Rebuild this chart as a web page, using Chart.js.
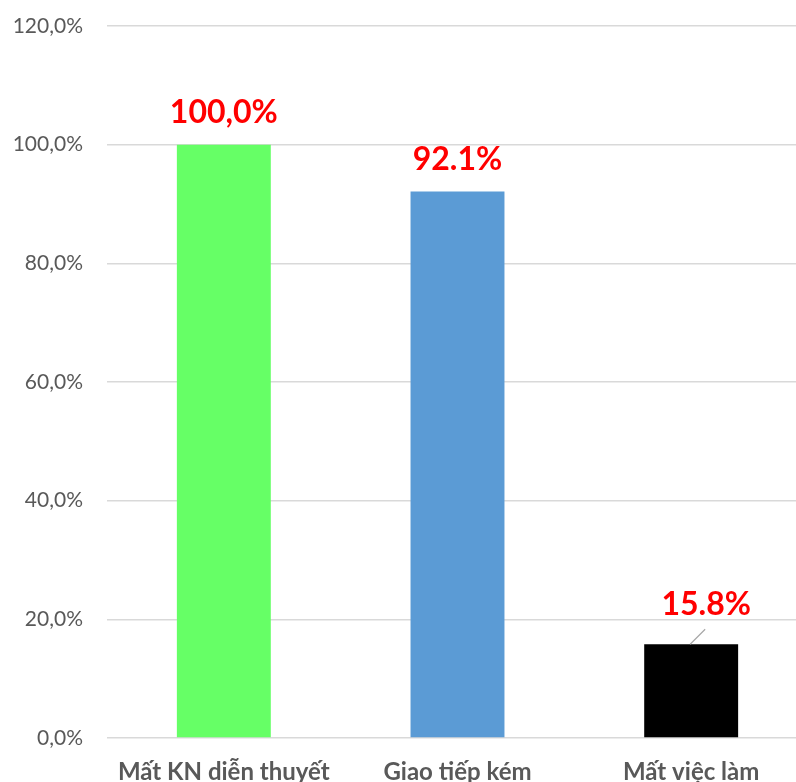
<!DOCTYPE html>
<html>
<head>
<meta charset="utf-8">
<script src="https://cdn.jsdelivr.net/npm/chart.js@4"></script>
<style>
  html, body { margin: 0; padding: 0; background: #fff; width: 796px; height: 782px; overflow: hidden; }
  #wrap { position: absolute; left: 0; top: 0; width: 808px; height: 800px; }
</style>
</head>
<body>
<div id="wrap"><canvas id="c" width="808" height="800"></canvas></div>
<script>
// Survey results: share of respondents per consequence
const categories = ['Mất KN diễn thuyết', 'Giao tiếp kém', 'Mất việc làm'];
const values = [100.0, 92.1, 15.8];
const valueLabels = ['100,0%', '92.1%', '15.8%'];
const barColors = ['#66FF66', '#5B9BD5', '#000000'];
const yTickValues = [0, 20, 40, 60, 80, 100, 120];

const FONT = 'Lato, "Open Sans", sans-serif';

// Red value labels above each bar; the last one sits a little off the bar with a leader line
const valueLabelPlugin = {
  id: 'valueLabels',
  afterDatasetsDraw(chart) {
    const ctx = chart.ctx;
    const meta = chart.getDatasetMeta(0);
    ctx.save();
    ctx.font = 'bold 32px ' + FONT;
    ctx.fillStyle = '#FF0000';
    ctx.textAlign = 'center';
    ctx.textBaseline = 'alphabetic';
    meta.data.forEach((bar, i) => {
      let x = bar.x, y = bar.y - 22;
      if (i === 2) {
        x = bar.x + 15;
        y = bar.y - 29;
        ctx.save();
        ctx.strokeStyle = '#A6A6A6';
        ctx.lineWidth = 1.2;
        ctx.beginPath();
        ctx.moveTo(bar.x - 1, bar.y);
        ctx.lineTo(bar.x + 14, bar.y - 15);
        ctx.stroke();
        ctx.restore();
      }
      ctx.fillText(valueLabels[i], x, y);
    });
    ctx.restore();
  }
};

new Chart(document.getElementById('c'), {
  type: 'bar',
  data: {
    labels: categories,
    datasets: [{
      data: values,
      backgroundColor: barColors,
      borderWidth: 0,
      categoryPercentage: 1.0,
      barPercentage: 0.402
    }]
  },
  options: {
    responsive: false,
    animation: false,
    events: [],
    layout: { padding: { top: 26, right: 0, bottom: 0, left: 0 } },
    plugins: { legend: { display: false }, tooltip: { enabled: false } },
    scales: {
      x: {
        grid: { display: false, drawTicks: false },
        border: { display: false },
        ticks: {
          color: '#595959',
          font: { family: FONT, size: 24, weight: 'bold' },
          padding: 20,
          maxRotation: 0,
          autoSkip: false
        },
        afterFit(scale) { scale.height = 62; }
      },
      y: {
        min: 0,
        max: 120,
        afterBuildTicks(scale) { scale.ticks = yTickValues.map(v => ({ value: v })); },
        grid: { color: '#D9D9D9', lineWidth: 1.5, drawTicks: false },
        border: { display: false },
        ticks: {
          color: '#595959',
          font: { family: FONT, size: 21 },
          padding: 24,
          callback: v => v.toFixed(1).replace('.', ',') + '%'
        },
        afterFit(scale) {
          scale.width = 107;
          scale.paddingTop = 0;
          scale.paddingBottom = 0;
        }
      }
    }
  },
  plugins: [valueLabelPlugin]
});
</script>
</body>
</html>
